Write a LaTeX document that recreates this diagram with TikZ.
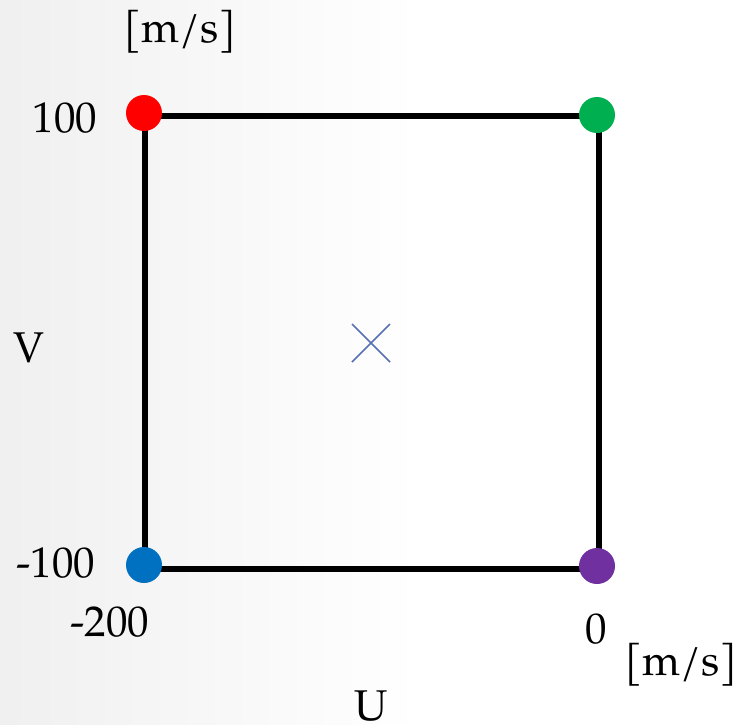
\documentclass[tikz,border=0pt]{standalone}
\usepackage{fontspec}
\setmainfont{TeX Gyre Pagella}
\begin{document}
\begin{tikzpicture}[x=1pt,y=-1pt,
  lbl/.style={anchor=base,inner sep=0pt,font=\fontsize{43}{52}\selectfont},
  dot/.style={circle,fill=#1,minimum size=36pt,inner sep=0pt},
  edge/.style={line width=5.5pt,black},
  cross/.style={draw=crossblue,line width=1.6pt}]
\definecolor{crossblue}{RGB}{88,112,182}
\definecolor{dred}{RGB}{255,0,0}
\definecolor{dgreen}{RGB}{0,176,80}
\definecolor{dblue}{RGB}{0,112,192}
\definecolor{dpurple}{RGB}{112,48,160}
\useasboundingbox (0,0) rectangle (737,724);
\fill[white] (0,0) rectangle (737,724);
\shade[left color=black!6, right color=white] (0,0) rectangle (420,724);
\coordinate (tl) at (145,116);
\coordinate (tr) at (599,116);
\coordinate (bl) at (145,569);
\coordinate (br) at (599,569);
\draw[edge] (tl) -- (tr) -- (br) -- (bl) -- cycle;
\node[dot=dred] (red) at (144,113) {};
\node[dot=dgreen] (green) at (597,115) {};
\node[dot=dblue] (blue) at (144,565) {};
\node[dot=dpurple] (purple) at (597,566) {};
\coordinate (c1) at (352,324);
\coordinate (c2) at (390,362);
\coordinate (c3) at (390,324);
\coordinate (c4) at (352,362);
\draw[cross] (c1) -- (c2);
\draw[cross] (c3) -- (c4);
\node[lbl] (unitv) at (180,42) {[m/s]};
\node[lbl] (v100) at (65,132) {100};
\node[lbl] (vlab) at (29,362) {V};
\node[lbl] (vm100) at (56,577) {-100};
\node[lbl] (um200) at (110,636) {-200};
\node[lbl] (u0) at (596,643) {0};
\node[lbl] (unitu) at (681,675) {[m/s]};
\node[lbl] (ulab) at (371,720) {U};
\end{tikzpicture}
\end{document}
